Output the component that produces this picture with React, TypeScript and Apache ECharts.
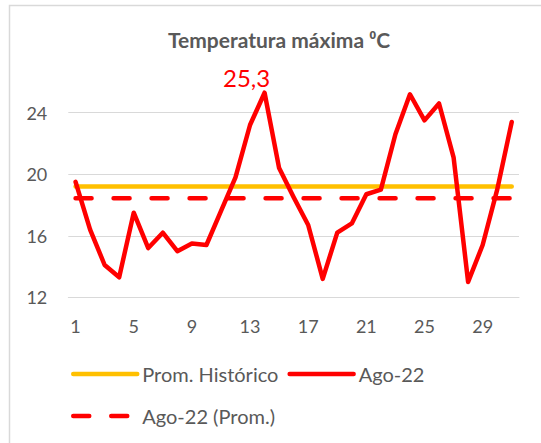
import React, { useEffect, useRef } from "react";
import * as echarts from "echarts";

const days = ["1","2","3","4","5","6","7","8","9","10","11","12","13","14","15","16","17","18","19","20","21","22","23","24","25","26","27","28","29","30","31"];

const ago22 = [19.5, 16.4, 14.1, 13.3, 17.5, 15.2, 16.2, 15.0, 15.5, 15.4, 17.6, 19.8, 23.2, 25.3, 20.4, 18.5, 16.7, 13.2, 16.2, 16.8, 18.7, 19.0, 22.6, 25.2, 23.5, 24.6, 21.1, 13.0, 15.4, 19.0, 23.4];

const promHistorico = [19.2, 19.2, 19.2, 19.2, 19.2, 19.2, 19.2, 19.2, 19.2, 19.2, 19.2, 19.2, 19.2, 19.2, 19.2, 19.2, 19.2, 19.2, 19.2, 19.2, 19.2, 19.2, 19.2, 19.2, 19.2, 19.2, 19.2, 19.2, 19.2, 19.2, 19.2];

const ago22Prom = [18.44, 18.44, 18.44, 18.44, 18.44, 18.44, 18.44, 18.44, 18.44, 18.44, 18.44, 18.44, 18.44, 18.44, 18.44, 18.44, 18.44, 18.44, 18.44, 18.44, 18.44, 18.44, 18.44, 18.44, 18.44, 18.44, 18.44, 18.44, 18.44, 18.44, 18.44];

const labelledIndex = 13;

const seriesNames = ["Prom. Histórico", "Ago-22", "Ago-22 (Prom.)"];
const titleText = "Temperatura máxima ⁰C";

const FONT = "Lato, 'Noto Sans', sans-serif";
const GRAY = "#595959";

export default function App() {
  const ref = useRef<HTMLDivElement>(null);
  useEffect(() => {
    if (!ref.current) return;
    const chart = echarts.init(ref.current, null, { renderer: "svg" });
    const legendCommon = {
      left: 66,
      itemWidth: 64,
      itemHeight: 14,
      itemGap: 9,
      itemStyle: { opacity: 0, borderWidth: 0 },
      lineStyle: { width: 4.5, cap: "round" },
      textStyle: { color: GRAY, fontSize: 20, fontFamily: FONT },
    };
    chart.setOption({
      animation: false,
      backgroundColor: "#ffffff",
      textStyle: { fontFamily: FONT },
      graphic: [
        {
          type: "rect",
          shape: { x: 9.5, y: 5.5, width: 600, height: 500 },
          style: { fill: "none", stroke: "#D9D9D9", lineWidth: 1.5 },
          silent: true,
        },
        {
          type: "text",
          x: 279,
          y: 39,
          style: {
            text: titleText,
            fill: GRAY,
            font: `bold 21px ${FONT}`,
            textAlign: "center",
            textVerticalAlign: "middle",
          },
        },
      ],
      grid: { left: 68.3, right: 22, top: 112.7, bottom: 145.7, containLabel: false },
      legend: [
        { ...legendCommon, data: [seriesNames[0], seriesNames[1]], top: 359 },
        { ...legendCommon, data: [seriesNames[2]], top: 401 },
      ],
      xAxis: {
        type: "category",
        data: days,
        boundaryGap: true,
        axisLine: { show: true, lineStyle: { color: "#D9D9D9", width: 1 } },
        axisTick: { show: false },
        axisLabel: { interval: 3, color: GRAY, fontSize: 18, fontFamily: FONT, margin: 20 },
        splitLine: { show: false },
      },
      yAxis: {
        type: "value",
        min: 12,
        max: 24,
        interval: 4,
        axisLine: { show: false },
        axisTick: { show: false },
        axisLabel: { color: GRAY, fontSize: 18, fontFamily: FONT, margin: 21 },
        splitLine: { show: true, lineStyle: { color: "#D9D9D9", width: 1 } },
      },
      series: [
        {
          name: seriesNames[0],
          type: "line",
          data: promHistorico,
          symbol: "none",
          clip: false,
          lineStyle: { color: "#FFC000", width: 4.5, cap: "round" },
          itemStyle: { color: "#FFC000" },
          z: 2,
        },
        {
          name: seriesNames[1],
          type: "line",
          data: ago22.map((v, i) =>
            i === labelledIndex
              ? {
                  value: v,
                  label: {
                    show: true,
                    position: "top",
                    distance: 2,
                    offset: [-18, 0],
                    color: "#FF0000",
                    fontSize: 24,
                    fontFamily: FONT,
                    formatter: (p: any) => String(p.value).replace(".", ","),
                  },
                }
              : v
          ),
          symbol: "circle",
          symbolSize: 2,
          showSymbol: true,
          clip: false,
          lineStyle: { color: "#FF0000", width: 4.5, cap: "round", join: "round" },
          itemStyle: { color: "#FF0000" },
          z: 4,
        },
        {
          name: seriesNames[2],
          type: "line",
          data: ago22Prom,
          symbol: "none",
          clip: false,
          lineStyle: { color: "#FF0000", width: 4.5, type: [16, 22], cap: "round" },
          itemStyle: { color: "#FF0000" },
          z: 3,
        },
      ],
    });
    return () => chart.dispose();
  }, []);
  return (
    <div
      ref={ref}
      style={{ position: "fixed", left: 0, top: 0, width: 541, height: 443, background: "#fff" }}
    />
  );
}
